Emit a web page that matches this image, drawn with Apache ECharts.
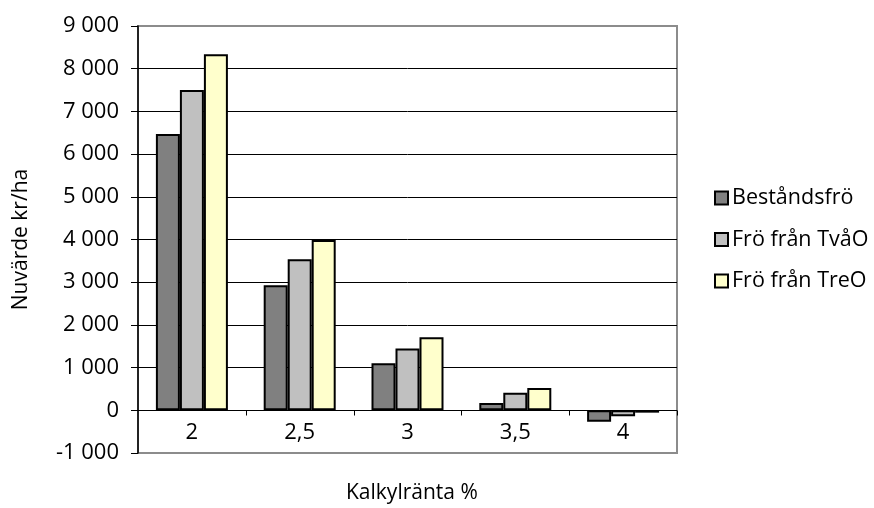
<!DOCTYPE html>
<html>
<head>
<meta charset="utf-8">
<script src="https://cdn.jsdelivr.net/npm/echarts@6/dist/echarts.min.js"></script>
<style>
  html, body { margin: 0; padding: 0; background: #fff; }
  #chart { width: 874px; height: 508px; }
</style>
</head>
<body>
<div id="chart"></div>
<script>
// Nuvärde per kalkylränta för tre fröalternativ
const categories = ['2', '2,5', '3', '3,5', '4'];
const bestandsfro = [6470, 2930, 1100, 170, -270];
const froTvaO = [7500, 3540, 1450, 410, -140];
const froTreO = [8340, 3990, 1710, 520, -55];
const seriesNames = ['Beståndsfrö', 'Frö från TvåO', 'Frö från TreO'];
const xTitle = 'Kalkylränta %';
const yTitle = 'Nuvärde kr/ha';
const yMin = -1000, yMax = 9000, yStep = 1000;

const FONT = '"Open Sans", "Noto Sans", sans-serif';
const FRAME = '#8c8c8c';

function fmt(v) {
  const s = Math.abs(v).toString().replace(/\B(?=(\d{3})+(?!\d))/g, ' ');
  return (v < 0 ? '-' : '') + s;
}

// outer gridlines take the frame colour, inner ones are black
const gridColors = [];
for (let v = yMin; v <= yMax; v += yStep) {
  gridColors.push(v === yMin || v === yMax ? FRAME : '#000');
}

const barStyle = (color) => ({ color: color, borderColor: '#000', borderWidth: 2 });

// zero line plus short ticks hanging under it at each category boundary
function zeroAxis(params, api) {
  const i = api.value(0);
  const p = api.coord([i, 0]);
  const w = api.size([1, 0])[0];
  const x = Math.round(p[0] + w / 2) + 0.5;
  const y = Math.round(p[1]) + 0.5;
  return {
    type: 'group',
    children: [
      { type: 'line', shape: { x1: p[0] - w / 2, y1: y, x2: p[0] + w / 2, y2: y }, style: { stroke: '#000', lineWidth: 1 } },
      { type: 'line', shape: { x1: x, y1: y, x2: x, y2: y + 5 }, style: { stroke: '#000', lineWidth: 1 } }
    ]
  };
}

const chart = echarts.init(document.getElementById('chart'), null, { renderer: 'canvas' });
chart.setOption({
  animation: false,
  backgroundColor: '#fff',
  title: {
    text: xTitle,
    left: 346, top: 483, padding: 0,
    textStyle: { fontFamily: FONT, fontSize: 21, fontWeight: 'normal', color: '#000' }
  },
  grid: {
    left: 138, right: 197, top: 26, bottom: 55,
    outerBoundsMode: 'none',
    show: true, borderColor: FRAME, borderWidth: 2
  },
  legend: {
    orient: 'vertical',
    left: 709, top: 182,
    itemWidth: 13, itemHeight: 13, itemGap: 19.5,
    icon: 'rect',
    textStyle: { fontFamily: FONT, fontSize: 21.5, color: '#000', padding: [0, 0, 0, -1] },
    data: seriesNames
  },
  xAxis: {
    type: 'category',
    data: categories,
    axisLine: { show: false, onZero: false },
    axisTick: { show: false },
    splitLine: { show: false },
    axisLabel: { fontFamily: FONT, fontSize: 22, color: '#000', margin: -31 }
  },
  yAxis: {
    type: 'value',
    min: yMin, max: yMax, interval: yStep,
    name: yTitle,
    nameLocation: 'middle',
    nameGap: 106,
    nameTextStyle: { fontFamily: FONT, fontSize: 21, color: '#000' },
    axisLine: { show: true, lineStyle: { color: '#000', width: 1.5 } },
    axisTick: { show: true, length: 7, lineStyle: { color: '#000' } },
    axisLabel: { fontFamily: FONT, fontSize: 22, color: '#000', margin: 19, formatter: fmt },
    splitLine: { show: true, lineStyle: { color: gridColors, width: 1 } }
  },
  series: [
    { name: seriesNames[0], type: 'bar', data: bestandsfro, barWidth: 24, barGap: '0%', itemStyle: barStyle('#808080') },
    { name: seriesNames[1], type: 'bar', data: froTvaO, barWidth: 24, barGap: '0%', itemStyle: barStyle('#c0c0c0') },
    { name: seriesNames[2], type: 'bar', data: froTreO, barWidth: 24, barGap: '0%', itemStyle: barStyle('#ffffcc') },
    {
      type: 'custom',
      silent: true,
      clip: false,
      z: 5,
      renderItem: zeroAxis,
      data: categories.map((c, i) => [i])
    }
  ]
});
</script>
</body>
</html>
